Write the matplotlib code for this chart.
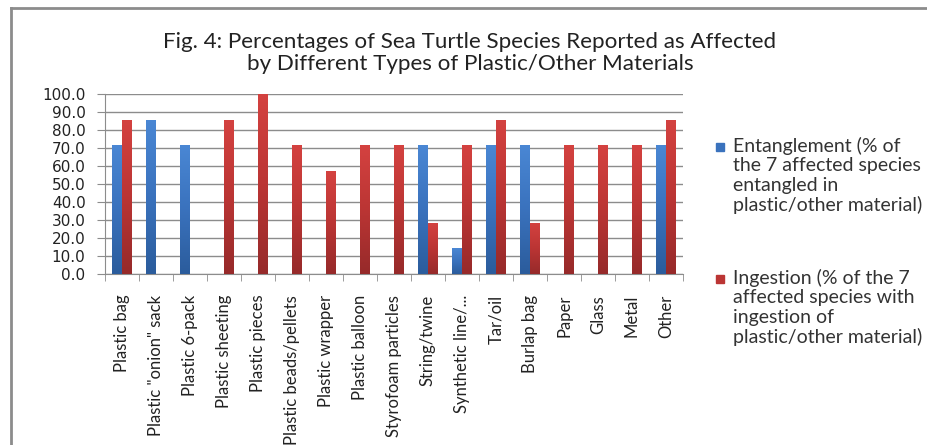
import matplotlib
matplotlib.use("Agg")
import matplotlib.pyplot as plt
import numpy as np
from matplotlib.colors import LinearSegmentedColormap
from matplotlib.patches import Rectangle
from matplotlib.lines import Line2D

categories = ["Plastic bag", 'Plastic "onion" sack', "Plastic 6-pack",
              "Plastic sheeting", "Plastic pieces", "Plastic beads/pellets",
              "Plastic wrapper", "Plastic balloon", "Styrofoam particles",
              "String/twine", "Synthetic line/...", "Tar/oil", "Burlap bag",
              "Paper", "Glass", "Metal", "Other"]

# % of the 7 affected species
entanglement = [71.4, 85.7, 71.4, 0, 0, 0, 0, 0, 0, 71.4, 14.3, 71.4, 71.4, 0, 0, 0, 71.4]
ingestion = [85.7, 0, 0, 85.7, 100.0, 71.4, 57.1, 71.4, 71.4, 28.6, 71.4, 85.7, 28.6, 71.4, 71.4, 71.4, 85.7]

yticks = np.arange(0, 101, 10)

blue_cmap = LinearSegmentedColormap.from_list("b", ["#2b5c9c", "#3a72bd", "#4a87d4"])
red_cmap = LinearSegmentedColormap.from_list("r", ["#962a2a", "#bb3534", "#d44240"])

fig = plt.figure(figsize=(9.27, 4.45), dpi=100)
ax = fig.add_axes([105 / 927, 1 - 274 / 445, (683 - 105) / 927, (274 - 94) / 445])

x = np.arange(len(categories))
w = 0.28
bars_e = ax.bar(x - w / 2, entanglement, w, color="#3a72bd", zorder=3)
bars_i = ax.bar(x + w / 2, ingestion, w, color="#bb3534", zorder=3)

# vertical gradient fill on each bar
grad = np.linspace(0, 1, 256).reshape(-1, 1)
for bars, cmap in ((bars_e, blue_cmap), (bars_i, red_cmap)):
    for b in bars:
        h = b.get_height()
        if h <= 0:
            continue
        x0 = b.get_x()
        im = ax.imshow(grad, cmap=cmap, origin="lower", aspect="auto",
                       extent=(x0, x0 + b.get_width(), 0, h), zorder=4)
        im.set_clip_path(b)

ax.set_xlim(-0.5, len(categories) - 0.5)
ax.set_ylim(0, 100)
ax.set_yticks(yticks)
ax.set_yticklabels([f"{v:.1f}" for v in yticks], fontsize=11, family="DejaVu Sans",
                   color="#222222")
ax.yaxis.grid(True, color="#8c8c8c", linewidth=1, zorder=0)
ax.tick_params(axis="y", length=6, color="#8c8c8c", pad=8)

ax.set_xticks(x)
ax.set_xticklabels(categories, rotation=90, fontsize=12, family="Lato", va="top",
                   color="#222222")
ax.tick_params(axis="x", length=0, pad=15)
ax.set_xticks(np.arange(-0.5, len(categories)), minor=True)
ax.tick_params(axis="x", which="minor", length=5, color="#8c8c8c")

for s in ("top", "right"):
    ax.spines[s].set_visible(False)
for s in ("left", "bottom"):
    ax.spines[s].set_color("#8c8c8c")
ax.set_axisbelow(True)

fig.text(470 / 927, 1 - 53 / 445,
         "Fig. 4: Percentages of Sea Turtle Species Reported as Affected\n"
         "by Different Types of Plastic/Other Materials",
         ha="center", va="center", fontsize=16.1, family="Lato", linespacing=1.17,
         color="#222222")

# legend
legend_items = [("#3a72bd", "Entanglement (% of\nthe 7 affected species\nentangled in\nplastic/other material)", 137),
                ("#bb3534", "Ingestion (% of the 7\naffected species with\ningestion of\nplastic/other material)", 269)]
for color, label, ytop in legend_items:
    fig.add_artist(Rectangle((716 / 927, 1 - (ytop + 14) / 445), 8 / 927, 8 / 445,
                             transform=fig.transFigure, color=color))
    fig.text(733 / 927, 1 - ytop / 445, label, ha="left", va="top",
             fontsize=14, family="Lato", linespacing=1.17, color="#333333")

# outer frame lines
fig.add_artist(Line2D([11 / 927, 1], [1 - 8 / 445, 1 - 8 / 445], transform=fig.transFigure,
                      color="#8c8c8c", linewidth=2))
fig.add_artist(Line2D([11 / 927, 11 / 927], [0, 1 - 8 / 445], transform=fig.transFigure,
                      color="#8c8c8c", linewidth=2))

fig.savefig("out.png", dpi=100)
